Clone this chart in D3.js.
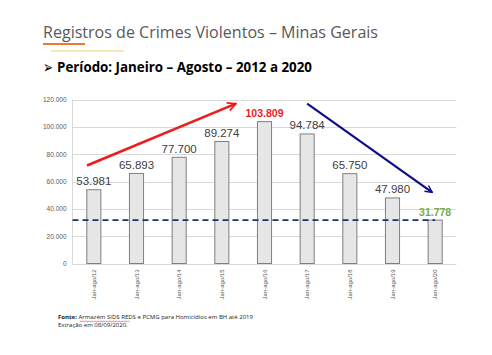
<!DOCTYPE html>
<html><head><meta charset="utf-8">
<script src="https://cdn.jsdelivr.net/npm/d3@7"></script>
<style>body{margin:0;background:#fff}svg{display:block}</style>
</head><body>
<script>
const categories = ["Jan-ago/12","Jan-ago/13","Jan-ago/14","Jan-ago/15","Jan-ago/16","Jan-ago/17","Jan-ago/18","Jan-ago/19","Jan-ago/20"];
const values = [53981, 65893, 77700, 89274, 103809, 94784, 65750, 47980, 31778];
const labels = ["53.981","65.893","77.700","89.274","103.809","94.784","65.750","47.980","31.778"];
const yTicks = [0, 20000, 40000, 60000, 80000, 100000, 120000];
const yTickLabels = ["0","20.000","40.000","60.000","80.000","100.000","120.000"];
const referenceValue = 31778;
const upArrow = [[-0.16, 71700], [3.33, 117000]];
const downArrow = [[5.0, 117000], [7.93, 52000]];

const W = 492, H = 355;
const svg = d3.select("body").append("svg").attr("width", W).attr("height", H);

// Title block
svg.append("text").attr("x", 43).attr("y", 38)
  .attr("font-family", "'Open Sans', Lato, sans-serif").attr("font-size", 16.5)
  .attr("fill", "#595959").attr("textLength", 335).attr("lengthAdjust", "spacingAndGlyphs")
  .text("Registros de Crimes Violentos – Minas Gerais");
svg.append("line").attr("x1", 43).attr("x2", 85).attr("y1", 44).attr("y2", 44)
  .attr("stroke", "#e97a2e").attr("stroke-width", 2.2);
svg.append("line").attr("x1", 51).attr("x2", 124).attr("y1", 51).attr("y2", 51)
  .attr("stroke", "#f3d266").attr("stroke-width", 1);
svg.append("text").attr("x", 43).attr("y", 72.5)
  .attr("font-family", "'DejaVu Sans', sans-serif").attr("font-size", 17).attr("font-weight", "bold")
  .attr("fill", "#000").attr("textLength", 10).attr("lengthAdjust", "spacingAndGlyphs").text("➢");
svg.append("text").attr("x", 57).attr("y", 72)
  .attr("font-family", "'Open Sans', Lato, sans-serif").attr("font-size", 14).attr("font-weight", "bold")
  .attr("fill", "#000").attr("textLength", 255).attr("lengthAdjust", "spacingAndGlyphs")
  .text("Período: Janeiro – Agosto – 2012 a 2020");

// Chart
const x = d3.scaleBand().domain(categories).range([72.5, 456.5]).paddingInner(0.67).paddingOuter(0.335);
const y = d3.scaleLinear().domain([0, 120000]).range([263.5, 99.5]);
const xi = i => x(categories[0]) + x.bandwidth() / 2 + i * x.step();

const g = svg.append("g");
g.selectAll("line.grid").data(yTicks).join("line").attr("class", "grid")
  .attr("x1", 72.5).attr("x2", 456.5).attr("y1", d => Math.round(y(d)) + 0.5).attr("y2", d => Math.round(y(d)) + 0.5)
  .attr("stroke", "#d9d9d9").attr("stroke-width", 1);
g.append("line").attr("x1", 72.5).attr("x2", 72.5).attr("y1", y(120000)).attr("y2", y(0))
  .attr("stroke", "#d9d9d9");

const yAxis = d3.axisLeft(y).tickValues(yTicks).tickSize(0).tickPadding(6)
  .tickFormat((d, i) => yTickLabels[i]);
const ya = svg.append("g").attr("transform", "translate(72.5,0)").call(yAxis);
ya.select(".domain").remove();
ya.selectAll("text").attr("font-family", "'Liberation Sans', Arial, sans-serif").attr("font-size", 6.5).attr("fill", "#595959");

const xAxis = d3.axisBottom(x).tickSize(0).tickPadding(0);
const xa = svg.append("g").attr("transform", "translate(0,263.5)").call(xAxis);
xa.select(".domain").remove();
xa.selectAll("text")
  .attr("font-family", "'Liberation Sans', Arial, sans-serif").attr("font-size", 6).attr("fill", "#595959")
  .attr("transform", "rotate(-90)").attr("text-anchor", "end").attr("dy", "0.35em").attr("x", -6).attr("y", 0);

svg.selectAll("rect.bar").data(values).join("rect").attr("class", "bar")
  .attr("x", (d, i) => x(categories[i])).attr("width", x.bandwidth())
  .attr("y", d => y(d)).attr("height", d => y(0) - y(d))
  .attr("fill", "#e7e6e6").attr("stroke", "#7f7f7f").attr("stroke-width", 1);

svg.append("line").attr("x1", 72.5).attr("x2", xi(8)).attr("y1", y(referenceValue)).attr("y2", y(referenceValue))
  .attr("stroke", "#1f2f6b").attr("stroke-width", 1.8).attr("stroke-dasharray", "6,4");

svg.selectAll("text.val").data(values).join("text").attr("class", "val")
  .attr("x", (d, i) => xi(i)).attr("y", (d, i) => y(d) - (i === 4 ? 5 : 4.5))
  .attr("text-anchor", "middle").attr("font-family", "'Liberation Sans', Arial, sans-serif")
  .attr("font-size", (d, i) => (i === 4 || i === 8) ? 10.5 : 11.5)
  .attr("font-weight", (d, i) => (i === 4 || i === 8) ? "bold" : "normal")
  .attr("fill", (d, i) => i === 4 ? "#ee1c1c" : i === 8 ? "#70ad47" : "#404040")
  .text((d, i) => labels[i]);

const defs = svg.append("defs");
function marker(id, color) {
  defs.append("marker").attr("id", id).attr("viewBox", "0 0 10 10").attr("refX", 9).attr("refY", 5)
    .attr("markerWidth", 4).attr("markerHeight", 4).attr("orient", "auto").attr("markerUnits", "strokeWidth")
    .append("path").attr("d", "M1,1 L9,5 L1,9").attr("fill", "none").attr("stroke", color).attr("stroke-width", 1.6);
}
marker("mr", "#ee1c1c");
marker("mb", "#0d0d8a");
svg.append("line").attr("x1", xi(upArrow[0][0])).attr("y1", y(upArrow[0][1]))
  .attr("x2", xi(upArrow[1][0])).attr("y2", y(upArrow[1][1]))
  .attr("stroke", "#ee1c1c").attr("stroke-width", 2.6).attr("marker-end", "url(#mr)");
svg.append("line").attr("x1", xi(downArrow[0][0])).attr("y1", y(downArrow[0][1]))
  .attr("x2", xi(downArrow[1][0])).attr("y2", y(downArrow[1][1]))
  .attr("stroke", "#0d0d8a").attr("stroke-width", 2.2).attr("marker-end", "url(#mb)");

// footer
const f = svg.append("text").attr("x", 58).attr("y", 319)
  .attr("font-family", "'Open Sans', Lato, sans-serif").attr("font-size", 6).attr("fill", "#222")
  .attr("textLength", 195).attr("lengthAdjust", "spacingAndGlyphs");
f.append("tspan").attr("font-weight", "bold").text("Fonte: ");
f.append("tspan").text("Armazém  SIDS  REDS");
f.append("tspan").text(" e PCMG para Homicídios em BH até 2019");
const wave = d3.range(0, 50, 1.5).map((t, k) => [80 + t, 321 + (k % 2 ? 0.8 : 0)]);
svg.append("path").attr("d", d3.line()(wave)).attr("fill", "none").attr("stroke", "#e03030").attr("stroke-width", 0.6);
svg.append("text").attr("x", 58).attr("y", 327)
  .attr("font-family", "'Open Sans', Lato, sans-serif").attr("font-size", 6).attr("fill", "#222")
  .text("Extração em 08/09/2020.");
</script>
</body></html>
